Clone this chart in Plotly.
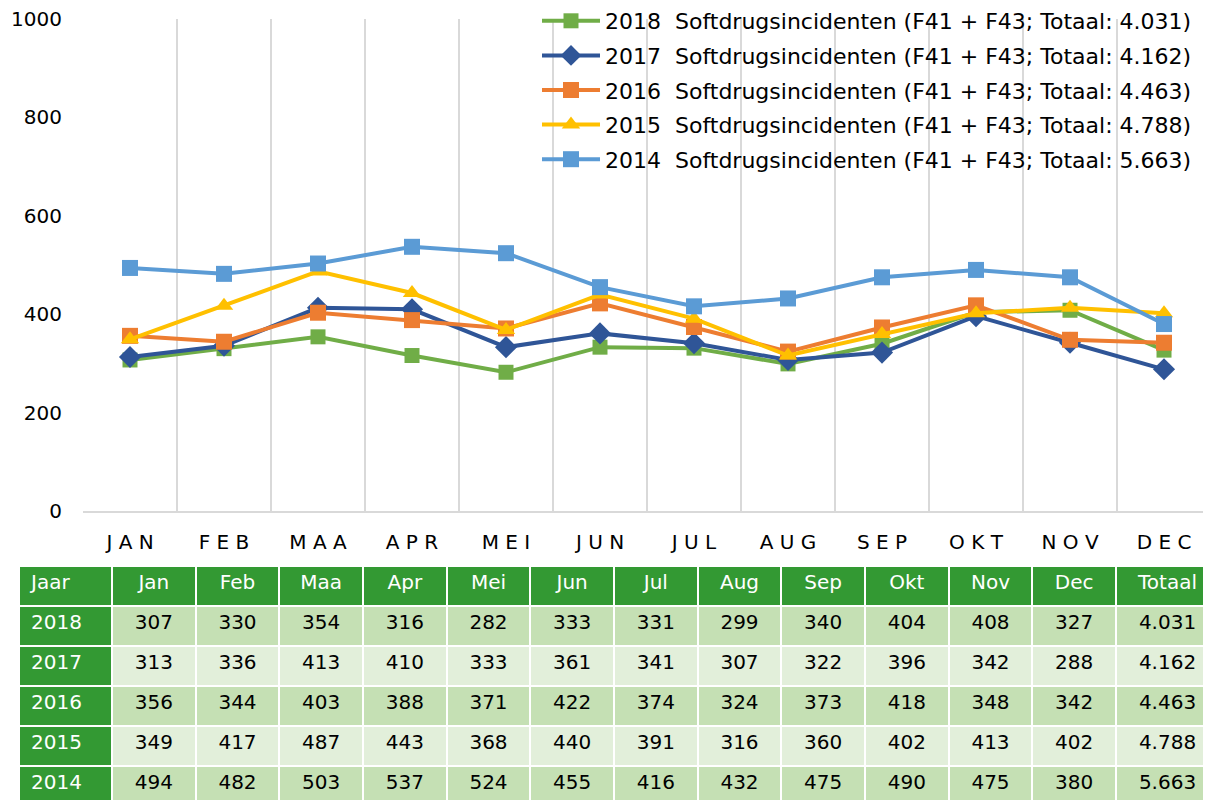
import plotly.graph_objects as go

months_axis = ["JAN", "FEB", "MAA", "APR", "MEI", "JUN", "JUL", "AUG", "SEP", "OKT", "NOV", "DEC"]
months_table = ["Jan", "Feb", "Maa", "Apr", "Mei", "Jun", "Jul", "Aug", "Sep", "Okt", "Nov", "Dec"]
years = ["2018", "2017", "2016", "2015", "2014"]
totals = ["4.031", "4.162", "4.463", "4.788", "5.663"]

v2018 = [307, 330, 354, 316, 282, 333, 331, 299, 340, 404, 408, 327]
v2017 = [313, 336, 413, 410, 333, 361, 341, 307, 322, 396, 342, 288]
v2016 = [356, 344, 403, 388, 371, 422, 374, 324, 373, 418, 348, 342]
v2015 = [349, 417, 487, 443, 368, 440, 391, 316, 360, 402, 413, 402]
v2014 = [494, 482, 503, 537, 524, 455, 416, 432, 475, 490, 475, 380]

series = [v2018, v2017, v2016, v2015, v2014]
colors = ["#70AD47", "#2F5597", "#ED7D31", "#FFC000", "#5B9BD5"]
symbols = ["square", "diamond", "square", "triangle-up", "square"]
sizes = [15, 17, 16, 16, 16]

W, H = 1211, 800
OFF = 8  # page body margin offset
FONT = "DejaVu Sans"


def px_x(sx):
    return (sx - OFF) / W


def px_y(sy):
    return 1 - (sy - OFF) / H


fig = go.Figure()
xs = list(range(12))
for yr, tot, vals, col, sym, sz in zip(years, totals, series, colors, symbols, sizes):
    fig.add_trace(go.Scatter(
        x=xs, y=vals, mode="lines+markers",
        name=f"{yr}\u00a0\u00a0Softdrugsincidenten (F41 + F43; Totaal: {tot})",
        legendgroup=yr,
        line=dict(color=col, width=4),
        marker=dict(symbol=sym, size=sz, color=col),
        xaxis="x", yaxis="y",
    ))

# table
header_vals = ["\u2009Jaar"] + months_table + ["Totaal"]
month_cols = [[str(s[i]) for s in series] for i in range(12)]
cells_vals = [["\u2009" + y for y in years]] + month_cols + [totals]
row_fill = ["#C5E0B4", "#E2EFDA", "#C5E0B4", "#E2EFDA", "#C5E0B4"]
dark = "#339933"
fills = [[dark] * 5] + [row_fill] * 13
fcolors = [["white"] * 5] + [["black"] * 5] * 13
aligns = ["left"] + ["center"] * 13

fig.add_trace(go.Table(
    domain=dict(x=[px_x(19), 1], y=[0, px_y(566)]),
    columnwidth=[93] + [83.67] * 12 + [103],
    header=dict(values=header_vals, fill_color=dark,
                font=dict(family=FONT, size=20, color="white"),
                align=aligns, height=40, line=dict(color="white", width=2)),
    cells=dict(values=cells_vals, fill_color=fills,
               font=dict(family=FONT, size=20, color=fcolors),
               align=aligns, height=40, line=dict(color="white", width=2)),
))

fig.update_layout(
    template="none",
    width=W, height=H,
    margin=dict(l=0, r=0, t=0, b=0, autoexpand=False),
    paper_bgcolor="white", plot_bgcolor="white",
    font=dict(family=FONT, size=20, color="black"),
    showlegend=True,
    legend=dict(x=px_x(537), y=px_y(0), xanchor="left", yanchor="top",
                bgcolor="rgba(0,0,0,0)", itemwidth=58,
                font=dict(family=FONT, size=22, color="black"),
                tracegroupgap=3),
    xaxis=dict(domain=[px_x(83), 1], range=[-0.5, 11.5 + OFF / 94.1],
               tickvals=xs, ticktext=[" ".join(m) for m in months_axis],
               showgrid=False, zeroline=False, automargin=False,
               showline=True, linecolor="#D9D9D9", linewidth=2,
               ticks="", ticklabelstandoff=12,
               minor=dict(tick0=-0.5, dtick=1, showgrid=True, gridcolor="#D9D9D9", gridwidth=2, ticks=""),
               tickfont=dict(family=FONT, size=20, color="black"),
               fixedrange=True),
    yaxis=dict(domain=[px_y(511), px_y(19)], range=[0, 1000],
               tickvals=[0, 200, 400, 600, 800, 1000],
               showgrid=False, zeroline=False, showline=False, automargin=False,
               ticks="", ticklabelstandoff=20, ticklabeloverflow="allow",
               tickfont=dict(family=FONT, size=20, color="black"),
               fixedrange=True),
)

fig.write_html("out.html")
